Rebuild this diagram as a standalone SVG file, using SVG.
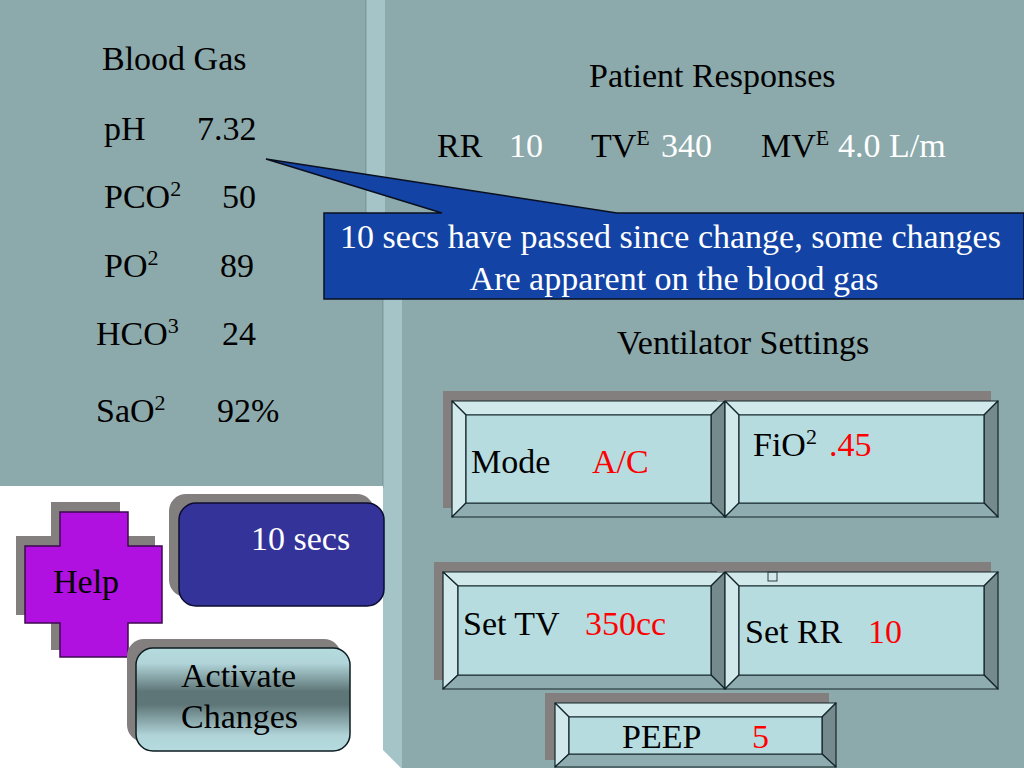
<svg xmlns="http://www.w3.org/2000/svg" width="1024" height="768" viewBox="0 0 1024 768">
<style>
text{font-family:"Liberation Serif","Times New Roman",serif;font-size:34px;fill:#000}
.w{fill:#fff}.r{fill:#f00}
.sup{font-size:22px}
.shadow{fill:#847f7f}
.e{stroke:#14262b;stroke-width:1.200;stroke-linejoin:round}
.t{fill:#d2e9ec}.l{fill:#d2e9ec}.rb{fill:#748a8c}.b{fill:#8fadb0}.f{fill:#b6dce0}
</style>
<defs>
<linearGradient id="metal" x1="0" y1="0" x2="0" y2="1">
<stop offset="0" stop-color="#b6dce0"/><stop offset="0.15" stop-color="#b0d4d8"/><stop offset="0.42" stop-color="#5f7678"/><stop offset="0.55" stop-color="#5f7678"/><stop offset="0.85" stop-color="#b0d4d8"/><stop offset="1" stop-color="#b6dce0"/>
</linearGradient>
</defs>
<g id="background">
<rect width="1024" height="768" fill="#8ca9ab"/>
<rect x="366" y="0" width="19" height="215" fill="#a5c4c8"/>
<rect x="365" y="0" width="1.500" height="215" fill="#7f9b9d"/>
<rect x="383" y="298" width="19" height="470" fill="#a5c4c8"/>
<rect x="382" y="298" width="1.500" height="190" fill="#7f9b9d"/>
<path d="M0 486H383V750L401 768H0Z" fill="#fff"/>
</g>
<g id="blood-gas">
<text x="102" y="70">Blood Gas</text>
<text x="104" y="140">pH</text><text x="197" y="140">7.32</text>
<text x="104" y="208">PCO<tspan class="sup" dy="-12">2</tspan></text><text x="222" y="208">50</text>
<text x="104" y="277">PO<tspan class="sup" dy="-12">2</tspan></text><text x="220" y="277">89</text>
<text x="96" y="345">HCO<tspan class="sup" dy="-12">3</tspan></text><text x="222" y="345">24</text>
<text x="96" y="422">SaO<tspan class="sup" dy="-12">2</tspan></text><text x="217" y="422">92%</text>
</g>
<g id="patient-responses">
<text x="589" y="87">Patient Responses</text>
<text x="437" y="157">RR</text><text class="w" x="509" y="157">10</text>
<text x="591" y="157">TV<tspan class="sup" dy="-12">E</tspan></text><text class="w" x="661" y="157">340</text>
<text x="761" y="157">MV<tspan class="sup" dy="-12">E</tspan></text><text class="w" x="838" y="157">4.0 L/m</text>
</g>
<g id="callout">
<path d="M324 213H442L266 159L617 213H1024V299H324Z" fill="#1343a4" stroke="#0a0f20" stroke-width="1.500"/>
<text class="w" x="670.500" y="248" text-anchor="middle">10 secs have passed since change, some changes</text>
<text class="w" x="674" y="290" text-anchor="middle">Are apparent on the blood gas</text>
</g>
<text id="ventilator-title" x="617" y="354">Ventilator Settings</text>
<g id="mode">
<rect class="shadow" x="443" y="391" width="275" height="117"/>
<path class="e t" d="M452 401H725L711 415H466Z"/><path class="e l" d="M452 401L466 415V503L452 517Z"/><path class="e rb" d="M725 401V517L711 503V415Z"/><path class="e b" d="M452 517L466 503H711L725 517Z"/><rect class="e f" x="466" y="415" width="245" height="88"/>
<text x="471" y="473">Mode</text><text class="r" x="592" y="473">A/C</text>
</g>
<g id="fio2">
<rect class="shadow" x="717" y="391" width="274" height="10"/>
<path class="e t" d="M725 401H998L984 415H739Z"/><path class="e l" d="M725 401L739 415V503L725 517Z"/><path class="e rb" d="M998 401V517L984 503V415Z"/><path class="e b" d="M725 517L739 503H984L998 517Z"/><rect class="e f" x="739" y="415" width="245" height="88"/>
<text x="753" y="456">FiO<tspan class="sup" dy="-12">2</tspan></text><text class="r" x="829" y="456">.45</text>
</g>
<g id="set-tv">
<rect class="shadow" x="434" y="562" width="284" height="118"/>
<path class="e t" d="M443 572H725L711 586H458Z"/><path class="e l" d="M443 572L458 586V675L443 689Z"/><path class="e rb" d="M725 572V689L711 675V586Z"/><path class="e b" d="M443 689L458 675H711L725 689Z"/><rect class="e f" x="458" y="586" width="253" height="89"/>
<text x="463" y="635">Set TV</text><text class="r" x="585" y="635">350cc</text>
</g>
<g id="set-rr">
<rect class="shadow" x="717" y="562" width="274" height="10"/>
<path class="e t" d="M725 572H998L984 586H739Z"/><path class="e l" d="M725 572L739 586V675L725 689Z"/><path class="e rb" d="M998 572V689L984 675V586Z"/><path class="e b" d="M725 689L739 675H984L998 689Z"/><rect class="e f" x="739" y="586" width="245" height="89"/>
<rect x="768" y="572" width="9" height="9" fill="none" stroke="#2a3a40" stroke-width="1"/>
<text x="745" y="643">Set RR</text><text class="r" x="868" y="643">10</text>
</g>
<g id="peep">
<rect class="shadow" x="545" y="693" width="284" height="67"/>
<path class="e t" d="M555 703H836L822 717H569Z"/><path class="e l" d="M555 703L569 717V754L555 767Z"/><path class="e rb" d="M836 703V767L822 754V717Z"/><path class="e b" d="M555 767L569 754H822L836 767Z"/><rect class="e f" x="569" y="717" width="253" height="37"/>
<text x="622" y="748">PEEP</text><text class="r" x="752" y="748">5</text>
</g>
<g id="help">
<path class="shadow" d="M51 502H120V536H155V615H120V650H51V615H16V536H51Z"/>
<path d="M60 512H128V546H162V623H128V657H60V623H25V546H60Z" fill="#b010e0" stroke="#3c0a50" stroke-width="1.500"/>
<text x="53" y="593">Help</text>
</g>
<g id="timer">
<rect class="shadow" x="169" y="494" width="205" height="103" rx="17"/>
<rect x="179" y="503" width="205" height="103" rx="17" fill="#333399" stroke="#0c0c30" stroke-width="1.500"/>
<text class="w" x="251" y="550">10 secs</text>
</g>
<g id="activate">
<rect class="shadow" x="127" y="639" width="214" height="103" rx="17"/>
<rect x="136" y="648" width="214" height="103" rx="17" fill="url(#metal)" stroke="#0c1c20" stroke-width="1.500"/>
<text x="181" y="687">Activate</text>
<text x="181" y="728">Changes</text>
</g>
<g id="connectors"/>
</svg>
